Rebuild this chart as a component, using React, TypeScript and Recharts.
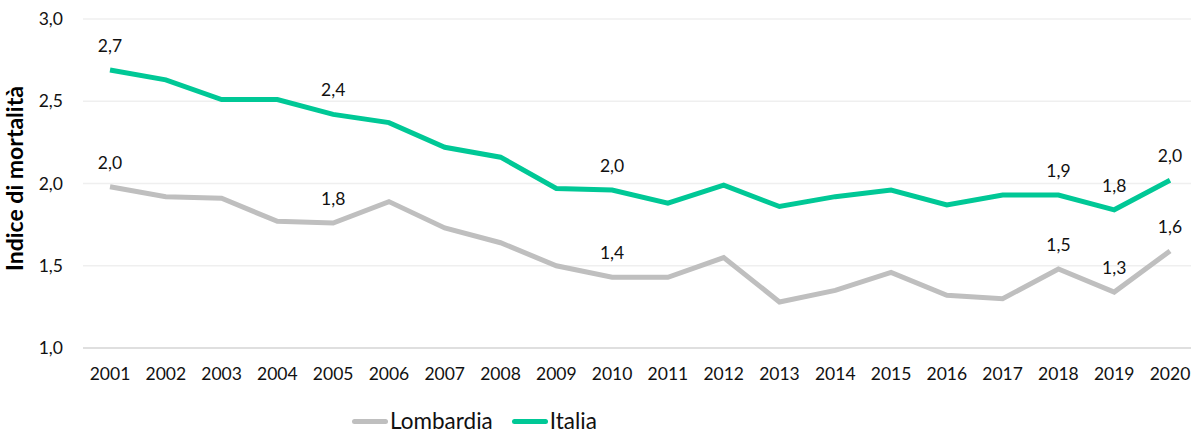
import { CartesianGrid, Legend, Line, LineChart, XAxis, YAxis } from "recharts";

const years = [
  "2001", "2002", "2003", "2004", "2005", "2006", "2007", "2008", "2009", "2010",
  "2011", "2012", "2013", "2014", "2015", "2016", "2017", "2018", "2019", "2020",
];

const lombardia = [
  1.98, 1.92, 1.91, 1.77, 1.76, 1.89, 1.73, 1.64, 1.5, 1.43,
  1.43, 1.55, 1.28, 1.35, 1.46, 1.32, 1.3, 1.48, 1.34, 1.59,
];

const italia = [
  2.69, 2.63, 2.51, 2.51, 2.42, 2.37, 2.22, 2.16, 1.97, 1.96,
  1.88, 1.99, 1.86, 1.92, 1.96, 1.87, 1.93, 1.93, 1.84, 2.02,
];

const labelYears = ["2001", "2005", "2010", "2018", "2019", "2020"];
const yTicks = [1, 1.5, 2, 2.5, 3];

const data = years.map((year, i) => ({
  year,
  Lombardia: lombardia[i],
  Italia: italia[i],
}));

const GREY = "#bfbfbf";
const GREEN = "#00c896";
const FONT = "Lato, 'Open Sans', sans-serif";

const fmt = (v: number) => v.toFixed(1).replace(".", ",");

const pointLabel = (props: any) => {
  const { x, y, value, index } = props;
  if (!labelYears.includes(years[index])) return null;
  return (
    <text
      x={x}
      y={y - 18}
      textAnchor="middle"
      fontSize={17.5}
      fontFamily={FONT}
      fill="#111"
    >
      {fmt(value)}
    </text>
  );
};

const renderLegend = () => (
  <div
    style={{
      display: "flex",
      alignItems: "center",
      paddingLeft: 352,
      fontFamily: FONT,
      fontSize: 22.5,
      lineHeight: "22px",
      color: "#111",
      height: 22,
    }}
  >
    {[
      { name: "Lombardia", color: GREY },
      { name: "Italia", color: GREEN },
    ].map((item) => (
      <div
        key={item.name}
        style={{ display: "flex", alignItems: "center", marginRight: 19 }}
      >
        <span
          style={{
            display: "inline-block",
            width: 36,
            height: 5,
            borderRadius: 3,
            background: item.color,
            marginRight: 2,
          }}
        />
        <span>{item.name}</span>
      </div>
    ))}
  </div>
);

export default function App() {
  return (
    <div style={{ position: "absolute", left: 0, top: 0, background: "#fff" }}>
      <LineChart
        width={1191}
        height={435}
        data={data}
        margin={{ top: 19, right: 0, left: 0, bottom: 25 }}
      >
        <CartesianGrid vertical={false} stroke="#efefef" strokeWidth={1.5} />
        <XAxis
          dataKey="year"
          padding={{ left: 27, right: 21 }}
          tickLine={false}
          axisLine={{ stroke: "#d9d9d9", strokeWidth: 1.5 }}
          tickSize={0}
          tickMargin={20}
          height={40}
          interval={0}
          tick={{ fontSize: 17.5, fontFamily: FONT, fill: "#111" }}
        />
        <YAxis
          domain={[1, 3]}
          ticks={yTicks}
          width={83}
          tickLine={false}
          axisLine={false}
          tickSize={0}
          tickMargin={20}
          tickFormatter={fmt}
          tick={{ fontSize: 17.5, fontFamily: FONT, fill: "#111" }}
          label={{
            value: "Indice di mortalità",
            angle: -90,
            position: "insideLeft",
            dx: 10,
            dy: -5,
            style: {
              fontSize: 23,
              fontWeight: 700,
              fontFamily: FONT,
              fill: "#000",
              textAnchor: "middle",
            },
          }}
        />
        <Legend
          verticalAlign="bottom"
          content={renderLegend}
          wrapperStyle={{ top: 410, left: 0, width: 1191 }}
        />
        <Line
          type="linear"
          dataKey="Lombardia"
          stroke={GREY}
          strokeWidth={5}
          dot={false}
          activeDot={false}
          isAnimationActive={false}
          label={pointLabel}
        />
        <Line
          type="linear"
          dataKey="Italia"
          stroke={GREEN}
          strokeWidth={5}
          dot={false}
          activeDot={false}
          isAnimationActive={false}
          label={pointLabel}
        />
      </LineChart>
    </div>
  );
}
